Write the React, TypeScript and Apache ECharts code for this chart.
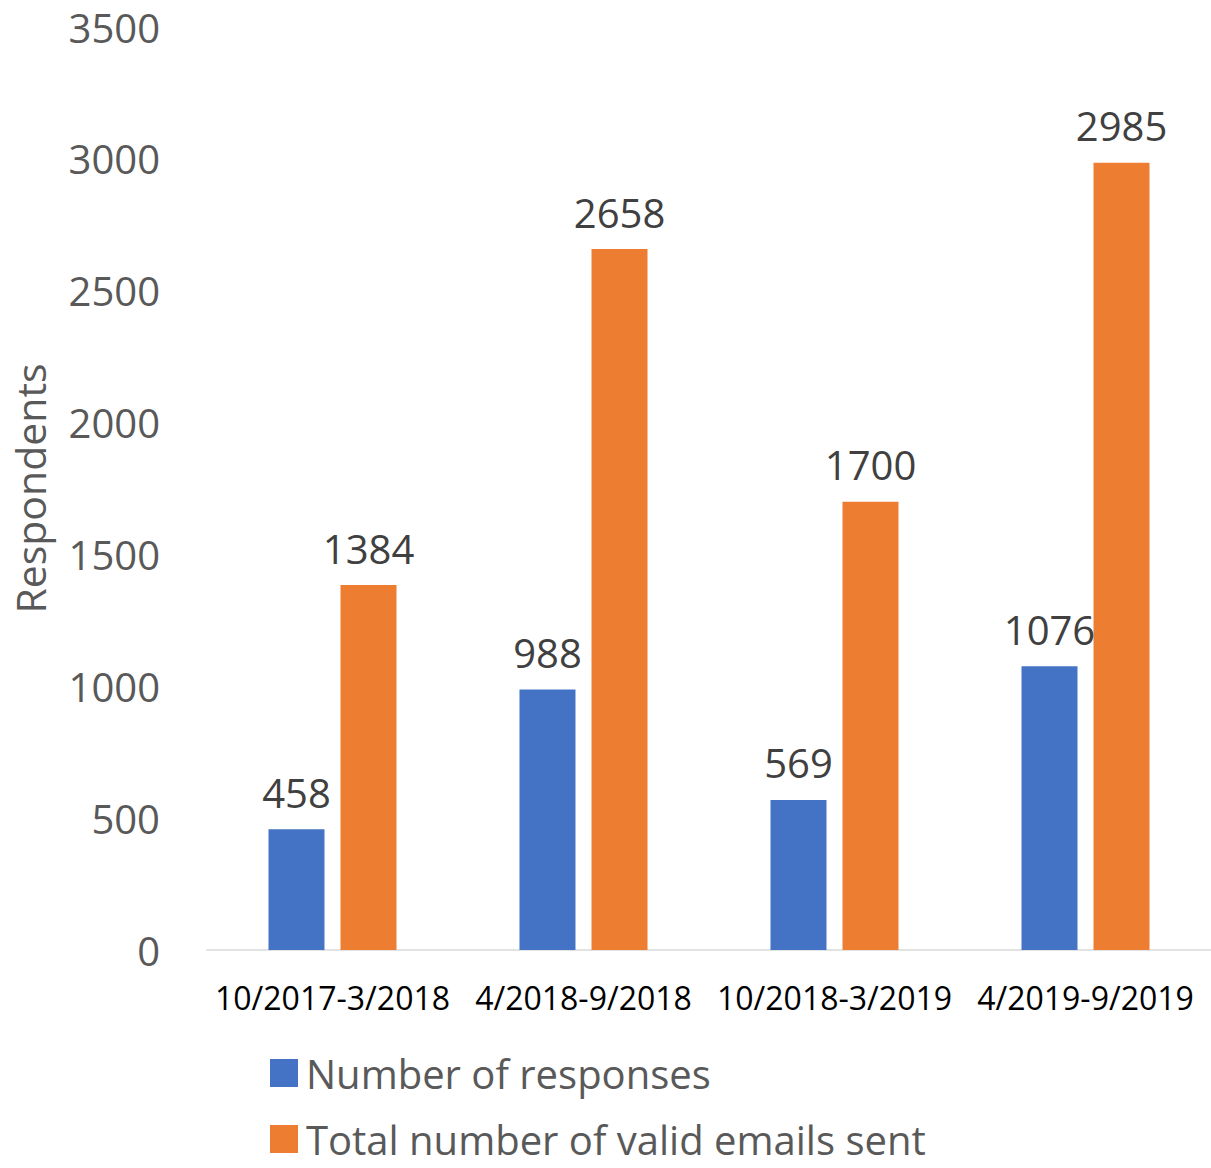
import React, { useEffect, useRef } from "react";
import * as echarts from "echarts";

const categories = ["10/2017-3/2018", "4/2018-9/2018", "10/2018-3/2019", "4/2019-9/2019"];
const responses = [458, 988, 569, 1076];
const emailsSent = [1384, 2658, 1700, 2985];
const seriesNames = ["Number of responses", "Total number of valid emails sent"];

const FONT = "'Open Sans', 'Noto Sans', sans-serif";

export default function App() {
  const ref = useRef<HTMLDivElement>(null);
  useEffect(() => {
    const chart = echarts.init(ref.current!, null, { renderer: "svg" });
    const legendBase = {
      orient: "horizontal",
      left: 270,
      padding: 0,
      itemWidth: 28,
      itemHeight: 28,
      icon: "rect",
      textStyle: { fontSize: 40, lineHeight: 42, color: "#595959", fontFamily: FONT, padding: [0, 0, 0, 3] },
    };
    chart.setOption({
      animation: false,
      textStyle: { fontFamily: FONT },
      grid: { left: 207, right: 0, top: 27, bottom: 218, containLabel: false, outerBoundsMode: "none" },
      legend: [
        { ...legendBase, top: 1052, data: [seriesNames[0]] },
        { ...legendBase, top: 1118, data: [seriesNames[1]] },
      ],
      xAxis: {
        type: "category",
        data: categories,
        axisLine: { show: true, lineStyle: { color: "#d9d9d9", width: 1.5 } },
        axisTick: { show: false },
        axisLabel: { fontSize: 32, color: "#000", margin: 31, interval: 0, fontFamily: FONT },
      },
      yAxis: {
        type: "value",
        min: 0,
        max: 3500,
        interval: 500,
        name: "Respondents",
        nameLocation: "middle",
        nameGap: 157,
        nameTextStyle: { fontSize: 41, color: "#595959", fontFamily: FONT },
        splitLine: { show: false },
        axisLine: { show: false },
        axisTick: { show: false },
        axisLabel: {
          fontSize: 40,
          color: "#595959",
          margin: 47,
          fontFamily: FONT,
          formatter: (v: number) => String(v),
        },
      },
      series: [
        {
          name: seriesNames[0],
          type: "bar",
          data: responses,
          barWidth: 56,
          barGap: "28.6%",
          itemStyle: { color: "#4472c4" },
          label: { show: true, position: "top", distance: 17, fontSize: 40, color: "#404040", fontFamily: FONT },
        },
        {
          name: seriesNames[1],
          type: "bar",
          data: emailsSent,
          barWidth: 56,
          itemStyle: { color: "#ed7d31" },
          label: { show: true, position: "top", distance: 17, fontSize: 40, color: "#404040", fontFamily: FONT },
        },
      ],
    });
    return () => chart.dispose();
  }, []);
  return <div ref={ref} style={{ width: 1211, height: 1168, position: "absolute", left: 0, top: 0 }} />;
}
